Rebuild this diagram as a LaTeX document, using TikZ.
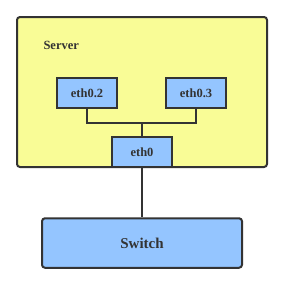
\documentclass[tikz,border=0pt]{standalone}
\usepackage{fontspec}
\setmainfont{Liberation Serif}
\definecolor{srvyellow}{HTML}{F9FC96}
\definecolor{ifblue}{HTML}{94C5FF}
\definecolor{edge}{HTML}{333333}
\begin{document}
\begin{tikzpicture}[x=1pt,y=-1pt,
  box/.style={draw=edge,line width=2pt,fill=ifblue,inner sep=0pt,text=edge,font=\bfseries\fontsize{12.5}{14}\selectfont},
  wire/.style={draw=edge,line width=2pt}]
\useasboundingbox (0,0) rectangle (283,282);
\fill[white] (0,0) rectangle (283,282);
\node[draw=edge,line width=2pt,fill=srvyellow,rounded corners=3pt,minimum width=250pt,minimum height=150pt,inner sep=0pt] (server) at (142,92) {};
\node[anchor=west,text=edge,font=\bfseries\fontsize{12.5}{14}\selectfont] (slabel) at (40,45) {Server};
\node[box,minimum width=60pt,minimum height=30pt] (e2) at (87,93) {eth0.2};
\node[box,minimum width=60pt,minimum height=30pt] (e3) at (196,93) {eth0.3};
\node[box,minimum width=60pt,minimum height=30pt] (e0) at (142,152.3) {eth0};
\node[box,rounded corners=3pt,minimum width=200pt,minimum height=49.5pt,font=\bfseries\fontsize{15}{18}\selectfont] (sw) at (142,243) {Switch};
\coordinate (bus) at (142,123);
\draw[wire] (e2.south) |- (bus) -| (e3.south);
\draw[wire] (bus) -- (e0.north);
\draw[wire] (e0.south) -- (sw.north);
\end{tikzpicture}
\end{document}
